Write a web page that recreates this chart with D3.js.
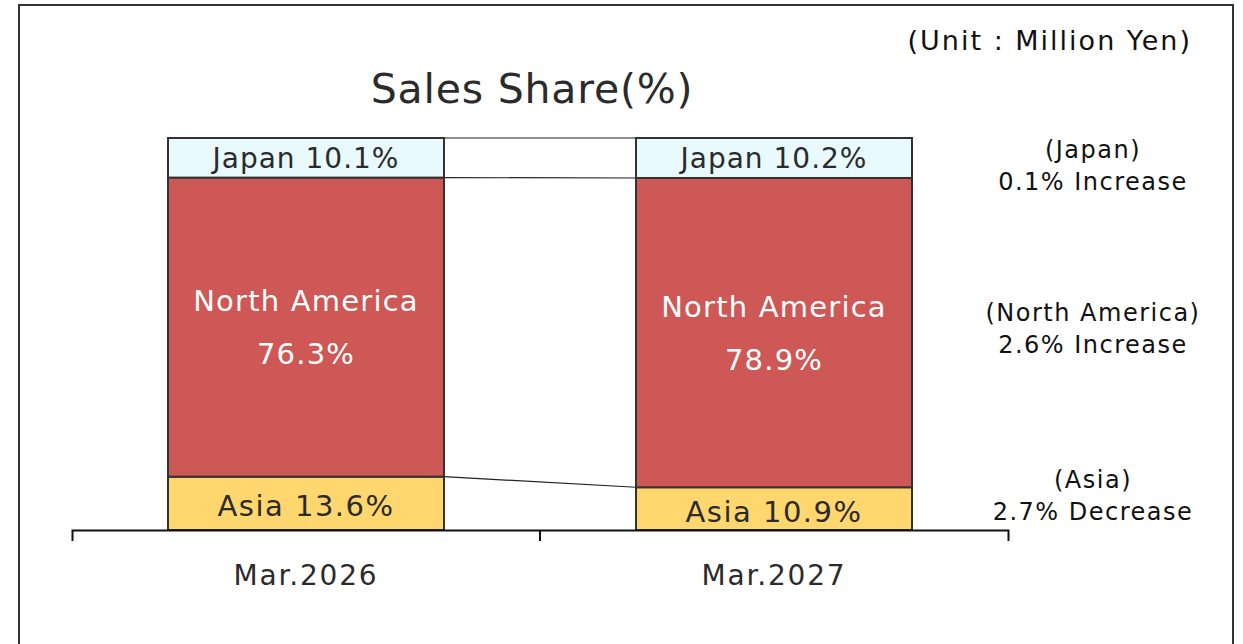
<!DOCTYPE html>
<html>
<head>
<meta charset="utf-8">
<script src="https://cdn.jsdelivr.net/npm/d3@7"></script>
<style>
  body { margin: 0; background: #fff; }
  svg text { font-family: "DejaVu Sans", Verdana, sans-serif; }
</style>
</head>
<body>
<div id="chart"></div>
<script>
// data
var periods = ["Mar.2026", "Mar.2027"];
var regions = ["Asia", "North America", "Japan"]; // bottom to top
var share2026 = [13.6, 76.3, 10.1];
var share2027 = [10.9, 78.9, 10.2];
var changeLabels = ["(Asia)", "(North America)", "(Japan)"];

var colors = d3.scaleOrdinal()
    .domain(regions)
    .range(["#FFD76E", "#CD5855", "#E8FAFE"]);
var textColors = { "Asia": "#2b2b2b", "North America": "#ffffff", "Japan": "#2b2b2b" };

var W = 1243, H = 644;
var svg = d3.select("#chart").append("svg")
    .attr("width", W)
    .attr("height", H);

// outer frame
svg.append("rect")
    .attr("x", 19).attr("y", 5)
    .attr("width", 1214).attr("height", 660)
    .attr("fill", "none")
    .attr("stroke", "#333")
    .attr("stroke-width", 2);

var x = d3.scaleBand()
    .domain(periods)
    .range([72, 1008])
    .padding(0);

var y = d3.scaleLinear()
    .domain([0, 100])
    .range([530, 138]);

var barWidth = 276;

// stack the two periods
var table = periods.map(function (p, i) {
    var row = { period: p };
    var vals = i === 0 ? share2026 : share2027;
    regions.forEach(function (r, j) { row[r] = vals[j]; });
    return row;
});
var series = d3.stack().keys(regions)(table);

// connector lines between bars
var left = x(periods[0]) + x.bandwidth() / 2 + barWidth / 2;
var right = x(periods[1]) + x.bandwidth() / 2 - barWidth / 2;
var conn = svg.append("g");
series.forEach(function (s) {
    conn.append("line")
        .attr("x1", left).attr("x2", right)
        .attr("y1", y(s[0][1])).attr("y2", y(s[1][1]))
        .attr("stroke", "#222")
        .attr("stroke-width", 1.2);
});

var g = svg.selectAll(".serie")
    .data(series)
    .enter().append("g")
    .attr("class", "serie");

g.selectAll("rect")
    .data(function (d) { return d.map(function (v) { v.key = d.key; return v; }); })
    .enter().append("rect")
    .attr("x", function (d) { return x(d.data.period) + x.bandwidth() / 2 - barWidth / 2; })
    .attr("y", function (d) { return y(d[1]); })
    .attr("width", barWidth)
    .attr("height", function (d) { return y(d[0]) - y(d[1]); })
    .attr("fill", function (d) { return colors(d.key); })
    .attr("stroke", "#333")
    .attr("stroke-width", 2);

// segment labels
g.each(function (s) {
    var grp = d3.select(this);
    s.forEach(function (d) {
        var cx = x(d.data.period) + x.bandwidth() / 2;
        var cy = (y(d[0]) + y(d[1])) / 2;
        var val = d[1] - d[0];
        var col = textColors[s.key];
        if (s.key === "North America") {
            grp.append("text")
                .attr("x", cx).attr("y", cy - 26)
                .attr("text-anchor", "middle")
                .attr("dominant-baseline", "central")
                .attr("font-size", 29)
                .attr("letter-spacing", 1.2)
                .attr("fill", col)
                .text(s.key);
            grp.append("text")
                .attr("x", cx).attr("y", cy + 27)
                .attr("text-anchor", "middle")
                .attr("dominant-baseline", "central")
                .attr("font-size", 29)
                .attr("letter-spacing", 1.2)
                .attr("fill", col)
                .text(val.toFixed(1) + "%");
        } else {
            grp.append("text")
                .attr("x", cx).attr("y", cy + (s.key === "Asia" ? 3 : 1))
                .attr("text-anchor", "middle")
                .attr("dominant-baseline", "central")
                .attr("font-size", s.key === "Japan" ? 28 : 29)
                .attr("letter-spacing", s.key === "Japan" ? 1 : 1.5)
                .attr("fill", col)
                .text(s.key + " " + val.toFixed(1) + "%");
        }
    });
});

// x axis
var axis = svg.append("g")
    .attr("transform", "translate(0,530)")
    .call(d3.axisBottom(x).tickSize(0).tickSizeOuter(11).tickPadding(35));
axis.select(".domain").attr("stroke", "#111").attr("stroke-width", 2);
axis.selectAll("text")
    .attr("font-size", 28)
    .attr("letter-spacing", 1.8)
    .attr("fill", "#2b2b2b")
    .style("font-family", "'DejaVu Sans', Verdana, sans-serif");
// divider tick between periods
axis.append("line")
    .attr("x1", x(periods[1])).attr("x2", x(periods[1]))
    .attr("y1", 0).attr("y2", 11)
    .attr("stroke", "#111").attr("stroke-width", 2);

// title and unit
svg.append("text")
    .attr("x", 532).attr("y", 103)
    .attr("text-anchor", "middle")
    .attr("font-size", 41)
    .attr("letter-spacing", 0.8)
    .attr("fill", "#2b2b2b")
    .text("Sales Share(%)");

svg.append("text")
    .attr("x", 1192).attr("y", 50)
    .attr("text-anchor", "end")
    .attr("font-size", 27)
    .attr("letter-spacing", 2)
    .attr("fill", "#111")
    .text("(Unit : Million Yen)");

// change annotations on the right
var ann = svg.append("g")
    .attr("font-size", 24)
    .attr("letter-spacing", 1.5)
    .attr("fill", "#111");
var annY = { "Japan": 150, "North America": 313, "Asia": 480 };
regions.forEach(function (r, j) {
    var diff = share2027[j] - share2026[j];
    ann.append("text")
        .attr("x", 1093).attr("y", annY[r] + 8)
        .attr("text-anchor", "middle")
        .text(changeLabels[j]);
    ann.append("text")
        .attr("x", 1093).attr("y", annY[r] + 40)
        .attr("text-anchor", "middle")
        .text(Math.abs(diff).toFixed(1) + "% " + (diff >= 0 ? "Increase" : "Decrease"));
});
</script>
</body>
</html>
